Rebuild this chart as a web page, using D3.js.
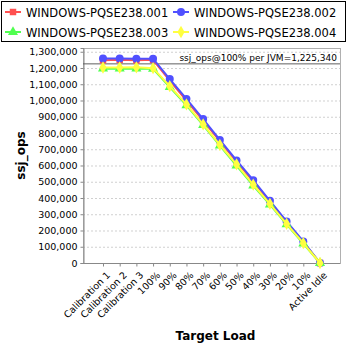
<!DOCTYPE html>
<html><head><meta charset="utf-8">
<script src="https://cdn.jsdelivr.net/npm/d3@7"></script>
<style>body{margin:0;background:#fff}svg{display:block}text{font-family:"DejaVu Sans",sans-serif}</style>
</head><body>
<script>
const categories = ["Calibration 1","Calibration 2","Calibration 3","100%","90%","80%","70%","60%","50%","40%","30%","20%","10%","Active Idle"];
const seriesNames = ["WINDOWS-PQSE238.001","WINDOWS-PQSE238.002","WINDOWS-PQSE238.003","WINDOWS-PQSE238.004"];
const s001 = [1248000,1250000,1247000,1250000,1122000,1000000,876000,750000,624000,503000,377000,252000,128000,0];
const s002 = [1258000,1258000,1257000,1257000,1132000,1010000,886000,757000,631000,510000,383000,256000,133000,0];
const s003 = [1196000,1196000,1197000,1195000,1082000,970000,848000,722000,600000,476000,360000,238000,120000,0];
const s004 = [1203000,1203000,1204000,1199000,1088000,976000,853000,727000,607000,482000,364000,241000,122000,0];
const yTicks = [0,100000,200000,300000,400000,500000,600000,700000,800000,900000,1000000,1100000,1200000,1300000];
const refValue = 1225340;
const refLabel = "ssj_ops@100% per JVM=1,225,340";
const xTitle = "Target Load", yTitle = "ssj_ops";

const colors = ["#ff5050","#5050ff","#50ff50","#ffff40"];
const shapes = [d3.symbolSquare, d3.symbolCircle, d3.symbolTriangle, d3.symbolDiamond];
const sizes = [42, 50, 44, 44];
const data = [s001,s002,s003,s004];

const W=348,H=348, L=83, R=340, T=48, B=263;
const svg = d3.select("body").append("svg").attr("width",W).attr("height",H);

const x = d3.scalePoint().domain(categories).range([L+20, R-20]);
const y = d3.scaleLinear().domain([0,1323000]).range([B,T]);

// grid
svg.append("g").selectAll("line").data(yTicks.filter(d=>d>0)).join("line")
  .attr("x1",L).attr("x2",R).attr("y1",d=>y(d)+0.5).attr("y2",d=>y(d)+0.5)
  .attr("stroke","#d0d0d0").attr("stroke-dasharray","2,2");

// plot border top/right
svg.append("rect").attr("x",L+0.5).attr("y",T+0.5).attr("width",R-L).attr("height",B-T)
  .attr("fill","none").attr("stroke","#b0b0b0");

// axes
const yAxis = d3.axisLeft(y).tickValues(yTicks).tickSize(3).tickFormat(d3.format(","));
const gy = svg.append("g").attr("transform",`translate(${L+0.5},0)`).call(yAxis);
gy.selectAll("text").attr("font-size","9.5px").attr("fill","#000").attr("font-family","DejaVu Sans");
gy.selectAll("line").attr("stroke","#888");
gy.select(".domain").attr("stroke","#888");

const xAxis = d3.axisBottom(x).tickSize(3).tickSizeOuter(0);
const gx = svg.append("g").attr("transform",`translate(0,${B+0.5})`).call(xAxis);
gx.select(".domain").attr("stroke","#888").attr("d",`M${L},0H${R}`);
gx.selectAll("line").attr("stroke","#888");
gx.selectAll("text").attr("font-size","9.5px").attr("fill","#000").attr("font-family","DejaVu Sans")
  .attr("text-anchor","end").attr("dx",0).attr("dy",0)
  .attr("transform","translate(3,8) rotate(-45)");

// reference line
svg.append("line").attr("x1",L).attr("x2",R).attr("y1",y(refValue)).attr("y2",y(refValue))
  .attr("stroke","#606060").attr("stroke-width",1);
svg.append("text").attr("x",R-3).attr("y",y(refValue)-3).attr("text-anchor","end")
  .attr("font-size","9px").text(refLabel);

// series
const line = d3.line().x((d,i)=>x(categories[i])).y(d=>y(d));
data.forEach((s,k)=>{
  svg.append("path").datum(s).attr("d",line).attr("fill","none")
    .attr("stroke",colors[k]).attr("stroke-width",2);
  svg.append("g").selectAll("path").data(s).join("path")
    .attr("transform",(d,i)=>`translate(${x(categories[i])},${y(d)})`)
    .attr("d",d3.symbol().type(shapes[k]).size(sizes[k])).attr("fill",colors[k]);
});

// titles
svg.append("text").attr("x",(L+R)/2+4).attr("y",340).attr("text-anchor","middle")
  .attr("font-size","12px").attr("font-weight","bold").text(xTitle);
svg.append("text").attr("transform",`translate(25,${(T+B)/2}) rotate(-90)`).attr("text-anchor","middle")
  .attr("font-size","12px").attr("font-weight","bold").text(yTitle);

// legend
svg.append("rect").attr("x",1.5).attr("y",1.5).attr("width",344).attr("height",40)
  .attr("fill","#fff").attr("stroke","#000");
const lpos = [[5,12],[173,12],[5,32],[173,32]];
seriesNames.forEach((n,k)=>{
  const [lx,ly]=lpos[k];
  svg.append("line").attr("x1",lx).attr("x2",lx+16).attr("y1",ly).attr("y2",ly)
    .attr("stroke",colors[k]).attr("stroke-width",2);
  svg.append("path").attr("transform",`translate(${lx+8},${ly})`)
    .attr("d",d3.symbol().type(shapes[k]).size(sizes[k])).attr("fill",colors[k]);
  svg.append("text").attr("x",lx+21).attr("y",ly+5).attr("font-size","11.5px").text(n);
});
</script>
</body></html>
